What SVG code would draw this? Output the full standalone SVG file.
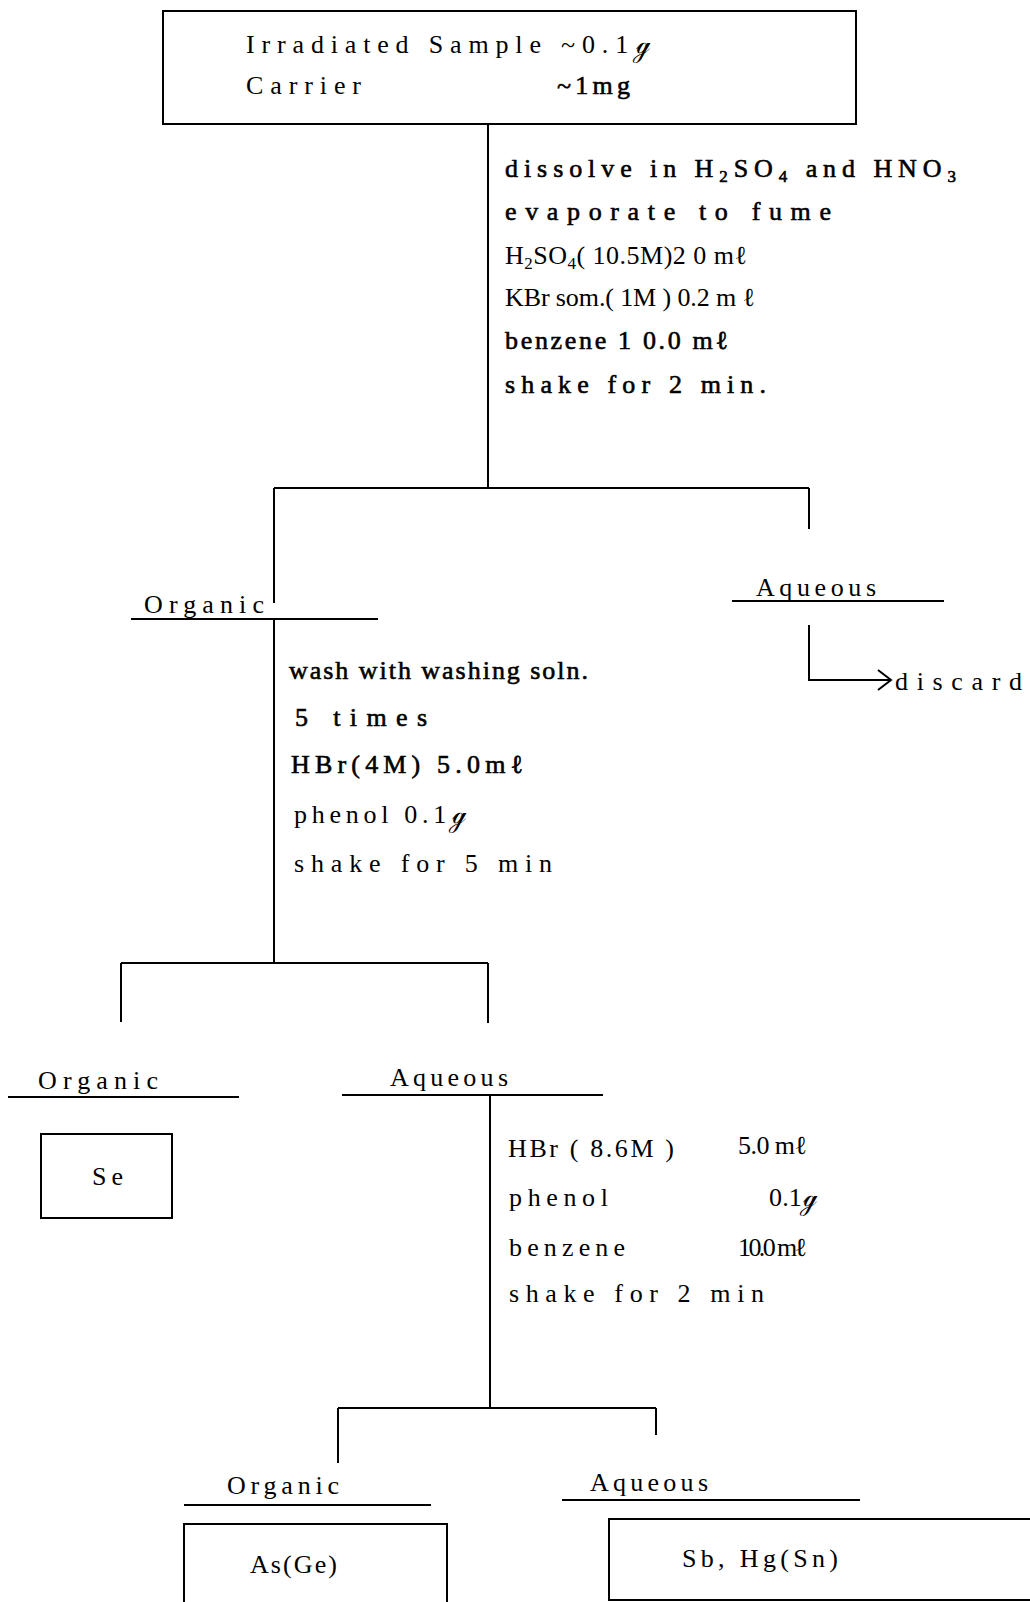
<svg xmlns="http://www.w3.org/2000/svg" width="1030" height="1602" viewBox="0 0 1030 1602">
<style>
  .t { font-family: "Liberation Serif", "DejaVu Serif", serif; font-size: 26px; fill: #000; }
  .b { stroke: #000; stroke-width: 0.6; }
  .sub { font-size: 17px; }
  .ln { stroke: #000; stroke-width: 2; fill: none; }
  .box { stroke: #000; stroke-width: 2; fill: #fff; }
</style>
<defs>
  <marker id="chev" markerUnits="userSpaceOnUse" markerWidth="18" markerHeight="24" refX="15" refY="11" orient="auto">
    <path d="M2,1 L15,11 L2,21" fill="none" stroke="#000" stroke-width="2"/>
  </marker>
</defs>
<rect width="1030" height="1602" fill="#fff"/>

<g id="connectors">
  <line class="ln" x1="488" y1="124" x2="488" y2="488"/>
  <line class="ln" x1="274" y1="488" x2="809" y2="488"/>
  <line class="ln" x1="274" y1="488" x2="274" y2="603"/>
  <line class="ln" x1="809" y1="488" x2="809" y2="529"/>
  <polyline class="ln" points="809,625 809,680 891,680" marker-end="url(#chev)"/>
  <line class="ln" x1="274" y1="619" x2="274" y2="963"/>
  <line class="ln" x1="121" y1="963" x2="488" y2="963"/>
  <line class="ln" x1="121" y1="963" x2="121" y2="1022"/>
  <line class="ln" x1="488" y1="963" x2="488" y2="1023"/>
  <line class="ln" x1="490" y1="1095" x2="490" y2="1408"/>
  <line class="ln" x1="338" y1="1408" x2="656" y2="1408"/>
  <line class="ln" x1="338" y1="1408" x2="338" y2="1463"/>
  <line class="ln" x1="656" y1="1408" x2="656" y2="1435"/>
</g>

<g id="sample">
  <rect class="box" x="163" y="11" width="693" height="113"/>
  <text class="t" x="246" y="53" textLength="404" lengthAdjust="spacing">Irradiated Sample ~0.1ℊ</text>
  <text class="t" x="246" y="94" textLength="115" lengthAdjust="spacing">Carrier</text>
  <text class="t b" x="557" y="94" textLength="73" lengthAdjust="spacing">~1mg</text>
</g>

<g id="step1">
  <text class="t b" x="505" y="177" textLength="451" lengthAdjust="spacing">dissolve in H<tspan class="sub" dy="5">2</tspan><tspan dy="-5">SO</tspan><tspan class="sub" dy="5">4</tspan><tspan dy="-5"> and HNO</tspan><tspan class="sub" dy="5">3</tspan></text>
  <text class="t b" x="505" y="220" textLength="326" lengthAdjust="spacing">evaporate to fume</text>
  <text class="t" x="505" y="264" textLength="242" lengthAdjust="spacing">H<tspan class="sub" dy="5">2</tspan><tspan dy="-5">SO</tspan><tspan class="sub" dy="5">4</tspan><tspan dy="-5">( 10.5M)2 0 mℓ</tspan></text>
  <text class="t" x="505" y="306" textLength="250" lengthAdjust="spacing">KBr som.( 1M ) 0.2 m ℓ</text>
  <text class="t b" x="505" y="349" textLength="223" lengthAdjust="spacing">benzene 1 0.0 mℓ</text>
  <text class="t b" x="505" y="393" textLength="261" lengthAdjust="spacing">shake for 2 min.</text>
</g>

<g id="organic1">
  <text class="t" x="144" y="613" textLength="120" lengthAdjust="spacing">Organic</text>
  <line class="ln" x1="131" y1="619" x2="378" y2="619"/>
</g>

<g id="aqueous1">
  <text class="t" x="756" y="596" textLength="120" lengthAdjust="spacing">Aqueous</text>
  <line class="ln" x1="732" y1="601" x2="944" y2="601"/>
</g>

<g id="discard">
  <text class="t" x="895" y="690" textLength="127" lengthAdjust="spacing">discard</text>
</g>

<g id="step2">
  <text class="t b" x="289" y="679" textLength="299" lengthAdjust="spacing">wash with washing soln.</text>
  <text class="t b" x="295" y="726" textLength="132" lengthAdjust="spacing">5 times</text>
  <text class="t b" x="291" y="773" textLength="232" lengthAdjust="spacing">HBr(4M) 5.0mℓ</text>
  <text class="t" x="294" y="823" textLength="172" lengthAdjust="spacing">phenol  0.1ℊ</text>
  <text class="t" x="294" y="872" textLength="258" lengthAdjust="spacing">shake for 5 min</text>
</g>

<g id="organic2">
  <text class="t" x="38" y="1089" textLength="120" lengthAdjust="spacing">Organic</text>
  <line class="ln" x1="8" y1="1097" x2="239" y2="1097"/>
</g>

<g id="aqueous2">
  <text class="t" x="390" y="1086" textLength="118" lengthAdjust="spacing">Aqueous</text>
  <line class="ln" x1="342" y1="1095" x2="603" y2="1095"/>
</g>

<g id="se">
  <rect class="box" x="41" y="1134" width="131" height="84"/>
  <text class="t" x="92" y="1185" textLength="31" lengthAdjust="spacing">Se</text>
</g>

<g id="step3">
  <text class="t" x="508" y="1157" textLength="166" lengthAdjust="spacing">HBr ( 8.6M )</text>
  <text class="t" x="738" y="1154" textLength="69" lengthAdjust="spacing">5.0 mℓ</text>
  <text class="t" x="509" y="1206" textLength="99" lengthAdjust="spacing">phenol</text>
  <text class="t" x="769" y="1206" textLength="48" lengthAdjust="spacing">0.1ℊ</text>
  <text class="t" x="509" y="1256" textLength="116" lengthAdjust="spacing">benzene</text>
  <text class="t" x="738" y="1256" textLength="69" lengthAdjust="spacing">10.0 mℓ</text>
  <text class="t" x="509" y="1302" textLength="255" lengthAdjust="spacing">shake for 2 min</text>
</g>

<g id="organic3">
  <text class="t" x="227" y="1494" textLength="112" lengthAdjust="spacing">Organic</text>
  <line class="ln" x1="184" y1="1505" x2="431" y2="1505"/>
</g>

<g id="aqueous3">
  <text class="t" x="590" y="1491" textLength="118" lengthAdjust="spacing">Aqueous</text>
  <line class="ln" x1="562" y1="1500" x2="860" y2="1500"/>
</g>

<g id="asge">
  <rect class="box" x="184" y="1524" width="263" height="90"/>
  <text class="t" x="250" y="1573" textLength="87" lengthAdjust="spacing">As(Ge)</text>
</g>

<g id="sbhg">
  <rect class="box" x="609" y="1519" width="440" height="81"/>
  <text class="t" x="682" y="1567" textLength="156" lengthAdjust="spacing">Sb,  Hg(Sn)</text>
</g>
</svg>
